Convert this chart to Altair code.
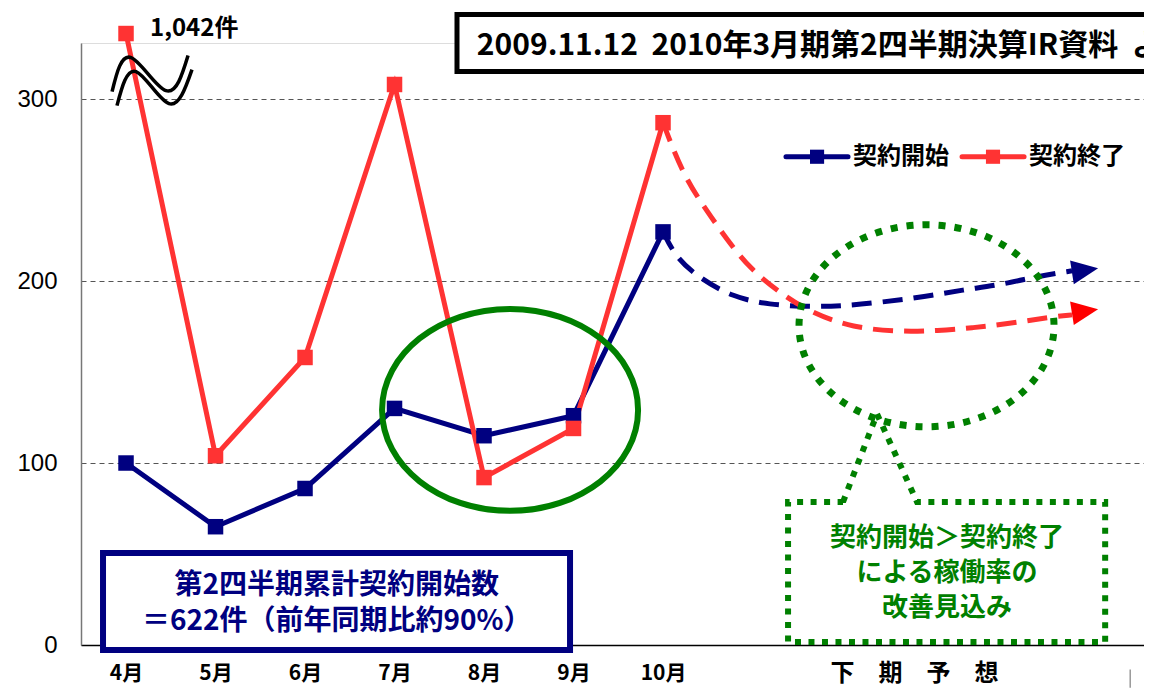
import json
import altair as alt
import pandas as pd

JP = "Noto Sans CJK JP"

# ---- data ----
months = ["4月", "5月", "6月", "7月", "8月", "9月", "10月"]
start_counts = [100, 65, 86, 130, 115, 126, 227]      # 契約開始
end_counts = [1042, 104, 158, 308, 92, 119, 287]      # 契約終了
break_cap = 336                                        # 4月 1,042件 drawn above the axis break
series_names = ["契約開始", "契約終了"]
series_colors = ["#000080", "#FF3333"]

# hand-drawn forecast arrows (下期予想)
fc_start_x = [6.0, 6.145, 6.402, 6.771, 7.184, 7.654, 8.045, 8.480, 8.916, 9.352, 9.777, 10.212, 10.570]
fc_start_y = [227, 212.8, 201.8, 191.3, 186.9, 185.8, 186.4, 188.6, 191.3, 195.2, 197.9, 202.9, 205.6]
fc_end_x = [6.0, 6.223, 6.480, 6.715, 6.983, 7.307, 7.654, 8.123, 8.637, 9.073, 9.464, 9.855, 10.335, 10.570]
fc_end_y = [287, 258.4, 239.2, 222.7, 206.2, 193.5, 182.5, 174.3, 172.1, 172.7, 174.3, 176.5, 180.3, 181.4]
arrow_x = [10.715, 10.715]
arrow_y = [205.9, 183.4]
arrow_colors = ["#000080", "#FF0000"]

# annotation texts
title_text = "2009.11.12\u00a0\u00a02010年3月期第2四半期決算IR資料\u00a0\u00a0より"
peak_label = "1,042件"
blue_box_lines = ["第2四半期累計契約開始数", "＝622件（前年同期比約90%）"]
green_box_lines = ["契約開始＞契約終了", "による稼働率の", "改善見込み"]
forecast_label = "下\u3000期\u3000予\u3000想"

# ---- scales & axes ----
xscale = alt.Scale(domain=[-0.503, 11.374], nice=False, zero=False)
yscale = alt.Scale(domain=[0, 330.8], nice=False, zero=False)

x_axis = alt.Axis(values=list(range(len(months))),
                  labelExpr=f"{json.dumps(months, ensure_ascii=False)}[datum.value]",
                  title=None, grid=False, ticks=False, domainColor="#000000", domainWidth=1.5,
                  labelFont=JP, labelFontSize=21, labelFontWeight="bold", labelColor="#000000",
                  labelPadding=17, labelFlush=False, labelOverlap=False)
y_axis = alt.Axis(values=[0, 100, 200, 300], title=None, grid=True, gridDash=[5, 4],
                  gridColor="#555555", gridWidth=1, ticks=False, domainColor="#777777",
                  domainWidth=1.5, labelFont="Liberation Sans", labelFontSize=24,
                  labelColor="#000000", labelPadding=24)


def X(f="x"):
    return alt.X(f"{f}:Q", scale=xscale, axis=x_axis)


def Y(f="y"):
    return alt.Y(f"{f}:Q", scale=yscale, axis=y_axis)


df = pd.DataFrame({
    "x": list(range(7)) * 2,
    "value": start_counts + end_counts,
    "series": [series_names[0]] * 7 + [series_names[1]] * 7,
})
df["plot"] = df["value"].clip(upper=break_cap)

color = alt.Color("series:N", scale=alt.Scale(domain=series_names, range=series_colors), legend=None)

base_lines = alt.Chart(df).mark_line(strokeWidth=5).encode(x=X(), y=Y("plot"), color=color)
base_pts = alt.Chart(df).mark_point(shape="square", filled=True, size=240, opacity=1).encode(
    x=X(), y=Y("plot"), color=color)

# forecast dashed curves
df_fc = pd.DataFrame({
    "x": fc_start_x + fc_end_x,
    "y": fc_start_y + fc_end_y,
    "s": ["a"] * len(fc_start_x) + ["b"] * len(fc_end_x),
    "o": list(range(len(fc_start_x))) + list(range(len(fc_end_x))),
})
fc_lines = alt.Chart(df_fc).mark_line(strokeWidth=5, strokeDash=[20, 11], interpolate="basis").encode(
    x=X(), y=Y(), order="o:Q",
    color=alt.Color("s:N", scale=alt.Scale(domain=["a", "b"], range=arrow_colors), legend=None))

tri = "M 1 0 L -1 -0.9 L -1 0.9 Z"
df_arrow = pd.DataFrame({"x": arrow_x, "y": arrow_y, "c": arrow_colors})
arrows = alt.Chart(df_arrow).mark_point(shape=tri, filled=True, size=700, opacity=1, angle=351).encode(
    x=X(), y=Y(), color=alt.Color("c:N", scale=None))

# axis break waves
wave_x = [-0.156, 0.056, 0.447, 0.693, -0.101, 0.112, 0.480, 0.737]
wave_y = [304.1, 322.8, 304.6, 323.9, 296.4, 315.1, 297.5, 316.2]
df_wave = pd.DataFrame({"x": wave_x, "y": wave_y, "w": ["u"] * 4 + ["l"] * 4, "o": [0, 1, 2, 3] * 2})
waves = alt.Chart(df_wave).mark_line(interpolate="natural", color="black", strokeWidth=3.5).encode(
    x=X(), y=Y(), detail="w:N", order="o:Q")

peak = alt.Chart(pd.DataFrame({"x": [0.268], "y": [338.7], "t": [peak_label]})).mark_text(
    align="left", baseline="middle", font=JP, fontSize=24, fontWeight="bold", color="black").encode(
    x=X(), y=Y(), text="t:N")

# title box
title_box = alt.Chart(pd.DataFrame({"x": [3.698], "x2": [12.0], "y": [346.4], "y2": [315.1]})).mark_rect(
    fill="white", stroke="black", strokeWidth=5).encode(x=X(), x2="x2:Q", y=Y(), y2="y2:Q")
title = alt.Chart(pd.DataFrame({"x": [3.92], "y": [329.4], "t": [title_text]})).mark_text(
    align="left", baseline="middle", font=JP, fontSize=30, fontWeight="bold", color="black").encode(
    x=X(), y=Y(), text="t:N")

# manual legend
df_leg = pd.DataFrame({"x": [7.374, 9.341], "x2": [8.067, 10.034], "xs": [7.721, 9.687],
                       "xt": [8.123, 10.089], "y": [268.3, 268.3], "series": series_names})
leg_rule = alt.Chart(df_leg).mark_rule(strokeWidth=5, strokeCap="round").encode(
    x=X(), x2="x2:Q", y=Y(), color=color)
leg_sq = alt.Chart(df_leg).mark_point(shape="square", filled=True, size=200, opacity=1).encode(
    x=X("xs"), y=Y(), color=color)
leg_txt = alt.Chart(df_leg).mark_text(align="left", baseline="middle", font=JP, fontSize=24,
                                      fontWeight="bold", color="black").encode(
    x=X("xt"), y=Y(), text="series:N")


def ellipse_path(ratio):
    k = 0.5523
    r = ratio
    return (f"M -1 0 C -1 {-k*r:.4f} {-k:.4f} {-r:.4f} 0 {-r:.4f} "
            f"C {k:.4f} {-r:.4f} 1 {-k*r:.4f} 1 0 "
            f"C 1 {k*r:.4f} {k:.4f} {r:.4f} 0 {r:.4f} "
            f"C {-k:.4f} {r:.4f} -1 {k*r:.4f} -1 0 Z")


ell1 = alt.Chart(pd.DataFrame({"x": [4.291], "y": [129.2]})).mark_point(
    shape=ellipse_path(0.789), size=256 * 256, filled=False, stroke="#008000", strokeWidth=6,
    opacity=1).encode(x=X(), y=Y())
ell2 = alt.Chart(pd.DataFrame({"x": [8.944], "y": [175.4]})).mark_point(
    shape=ellipse_path(0.792), size=255 * 255, filled=False, stroke="#008000", strokeWidth=7,
    strokeDash=[7, 9], opacity=1).encode(x=X(), y=Y())

# callout box with pointer
call_x = [8.011, 8.391, 8.838, 10.94, 10.94, 7.397, 7.397, 8.011]
call_y = [78.6, 127.0, 78.6, 78.6, 1.65, 1.65, 78.6, 78.6]
df_call = pd.DataFrame({"x": call_x, "y": call_y, "o": list(range(len(call_x)))})
callout = alt.Chart(df_call).mark_line(color="#008000", strokeWidth=6, strokeDash=[6, 7.5]).encode(
    x=X(), y=Y(), order="o:Q")
green_txt = alt.Chart(pd.DataFrame({"x": [9.173] * 3, "y": [58.8, 39.6, 20.3], "t": green_box_lines})).mark_text(
    align="center", baseline="middle", font=JP, fontSize=26, fontWeight="bold", color="#008000").encode(
    x=X(), y=Y(), text="t:N")

# blue summary box
blue_box = alt.Chart(pd.DataFrame({"x": [-0.257], "x2": [4.961], "y": [50.6], "y2": [-2.75]})).mark_rect(
    fill="white", stroke="#000080", strokeWidth=6).encode(x=X(), x2="x2:Q", y=Y(), y2="y2:Q")
blue_txt = alt.Chart(pd.DataFrame({"x": [2.354] * 2, "y": [32.4, 12.6], "t": blue_box_lines})).mark_text(
    align="center", baseline="middle", font=JP, fontSize=28, fontWeight="bold", color="#000080").encode(
    x=X(), y=Y(), text="t:N")

# 下期予想 label and separator
fc_lab = alt.Chart(pd.DataFrame({"x": [8.81], "y": [-16.2], "t": [forecast_label]})).mark_text(
    align="center", baseline="middle", font=JP, fontSize=24, fontWeight="bold", color="black").encode(
    x=X(), y=Y(), text="t:N")
sep = alt.Chart(pd.DataFrame({"x": [11.22], "y": [-13.5], "y2": [-23.5]})).mark_rule(
    color="#999999", strokeWidth=1.5).encode(x=X(), y=Y(), y2="y2:Q")

chart = alt.layer(
    base_lines, fc_lines, base_pts, arrows, waves, peak, title_box, title,
    leg_rule, leg_sq, leg_txt, ell1, ell2, callout, green_txt, blue_box, blue_txt, fc_lab, sep,
).properties(
    width=1063, height=602,
    autosize=alt.AutoSizeParams(type="none"),
    padding={"left": 73, "top": 35, "right": 0, "bottom": 45},
).configure_view(stroke=None).configure(background="white")

chart.save("out.html", embed_options={"renderer": "svg", "actions": False})
